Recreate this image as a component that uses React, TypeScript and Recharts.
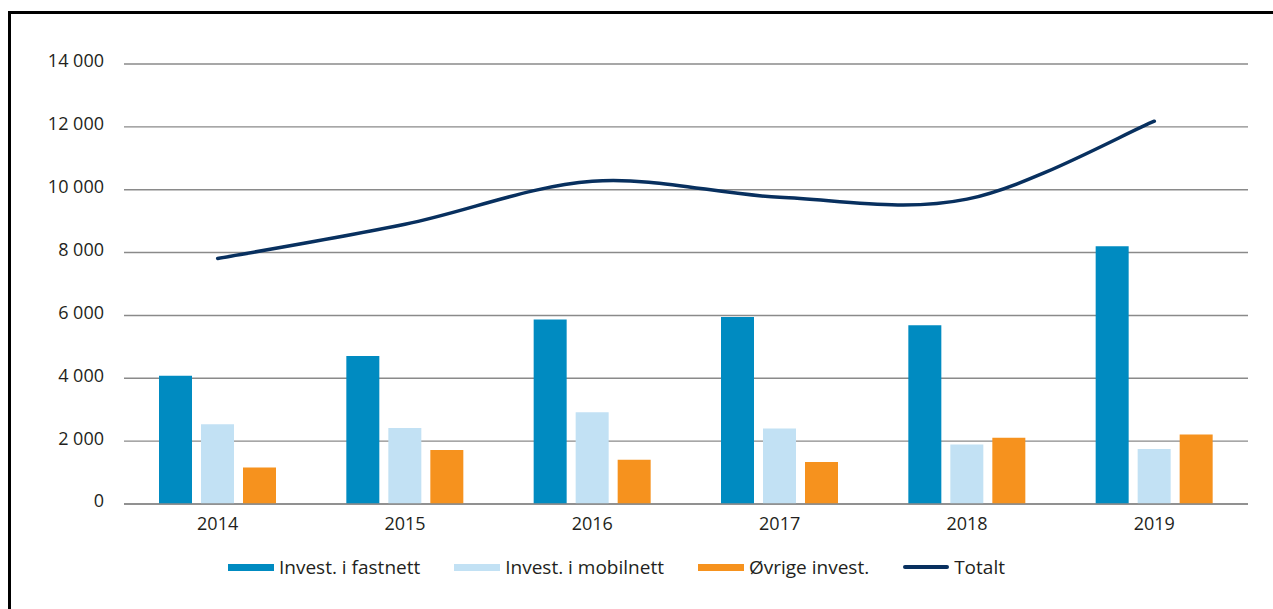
import React from "react";
import {
  ComposedChart,
  Bar,
  Line,
  XAxis,
  YAxis,
  CartesianGrid,
  Legend,
} from "recharts";

const years = ["2014", "2015", "2016", "2017", "2018", "2019"];
const fastnett = [4080, 4710, 5870, 5950, 5690, 8200];
const mobilnett = [2540, 2420, 2920, 2400, 1890, 1750];
const ovrige = [1160, 1720, 1410, 1340, 2110, 2210];
const totalt = [7810, 8900, 10270, 9760, 9700, 12180];
const yTicks = [0, 2000, 4000, 6000, 8000, 10000, 12000, 14000];
const seriesNames = ["Invest. i fastnett", "Invest. i mobilnett", "Øvrige invest.", "Totalt"];

const data = years.map((year, i) => ({
  year,
  fastnett: fastnett[i],
  mobilnett: mobilnett[i],
  ovrige: ovrige[i],
  totalt: totalt[i],
}));

const FONT = "'Open Sans', 'Liberation Sans', sans-serif";
const TEXT = "#231f20";

// smooth line like the spreadsheet one (catmull-rom through the points)
const smoothCurve = (context: any) => {
  let pts: [number, number][] = [];
  return {
    areaStart() {},
    areaEnd() {},
    lineStart() {
      pts = [];
    },
    point(x: number, y: number) {
      pts.push([+x, +y]);
    },
    lineEnd() {
      if (!pts.length) return;
      context.moveTo(pts[0][0], pts[0][1]);
      for (let i = 0; i < pts.length - 1; i++) {
        const p0 = pts[i - 1] || pts[i];
        const p1 = pts[i];
        const p2 = pts[i + 1];
        const p3 = pts[i + 2] || p2;
        context.bezierCurveTo(
          p1[0] + (p2[0] - p0[0]) / 6,
          p1[1] + (p2[1] - p0[1]) / 6,
          p2[0] - (p3[0] - p1[0]) / 6,
          p2[1] - (p3[1] - p1[1]) / 6,
          p2[0],
          p2[1]
        );
      }
    },
  };
};

const fmt = (v: number) =>
  v === 0 ? "0" : `${Math.floor(v / 1000)} ${String(v % 1000).padStart(3, "0")}`;

const YTick = ({ x, y, payload }: any) => (
  <text x={x} y={y} dy={3.4} textAnchor="end" fill={TEXT} fontSize={18} fontFamily={FONT}>
    {fmt(payload.value)}
  </text>
);

const XTick = ({ x, y, payload }: any) => (
  <text x={x} y={y} dy={26} textAnchor="middle" fill={TEXT} fontSize={18} fontFamily={FONT}>
    {payload.value}
  </text>
);

const renderLegend = (props: any) => {
  const items = [...(props.payload || [])].sort(
    (a: any, b: any) => seriesNames.indexOf(a.value) - seriesNames.indexOf(b.value)
  );
  return (
    <div style={{ display: "flex", alignItems: "center", fontFamily: FONT }}>
      {items.map((entry: any, i: number) => (
        <div
          key={entry.value}
          style={{
            display: "flex",
            alignItems: "center",
            marginLeft: i === 0 ? 0 : 34,
          }}
        >
          <span
            style={{
              display: "inline-block",
              width: 46,
              height: entry.type === "line" ? 4 : 7,
              borderRadius: entry.type === "line" ? 2 : 0,
              background: entry.color,
              marginRight: 5,
            }}
          />
          <span style={{ fontSize: 19, color: TEXT, lineHeight: "24px", whiteSpace: "nowrap" }}>
            {entry.value}
          </span>
        </div>
      ))}
    </div>
  );
};

export default function App() {
  return (
    <div>
      <div
        style={{
          position: "absolute",
          left: 8,
          top: 11,
          width: 1265,
          height: 598,
          boxSizing: "border-box",
          borderTop: "3px solid #000",
          borderLeft: "3px solid #000",
        }}
      />
      <div style={{ position: "absolute", left: 0, top: 0 }}>
        <ComposedChart
          width={1273}
          height={609}
          data={data}
          margin={{ top: 64, right: 25, left: 24, bottom: 75 }}
          barSize={33}
          barGap={9}
        >
          <CartesianGrid vertical={false} stroke="#8a8a8a" strokeWidth={1.4} />
          <XAxis
            dataKey="year"
            height={30}
            tickLine={false}
            tickSize={0}
            tickMargin={0}
            axisLine={{ stroke: "#8a8a8a", strokeWidth: 1.5 }}
            tick={<XTick />}
          />
          <YAxis
            width={100}
            domain={[0, 14000]}
            ticks={yTicks}
            axisLine={false}
            tickLine={false}
            tickSize={0}
            tickMargin={20}
            tick={<YTick />}
          />
          <Bar dataKey="fastnett" name={seriesNames[0]} fill="#008bc1" isAnimationActive={false} />
          <Bar dataKey="mobilnett" name={seriesNames[1]} fill="#c2e1f4" isAnimationActive={false} />
          <Bar dataKey="ovrige" name={seriesNames[2]} fill="#f6921e" isAnimationActive={false} />
          <Line
            dataKey="totalt"
            name={seriesNames[3]}
            type={smoothCurve as any}
            stroke="#08305f"
            strokeWidth={3.5}
            strokeLinecap="round"
            dot={false}
            activeDot={false}
            legendType="line"
            isAnimationActive={false}
          />
          <Legend
            layout="horizontal"
            verticalAlign="middle"
            align="center"
            content={renderLegend}
            wrapperStyle={{ top: 555, left: 228, width: "auto", height: 24 }}
          />
        </ComposedChart>
      </div>
    </div>
  );
}
